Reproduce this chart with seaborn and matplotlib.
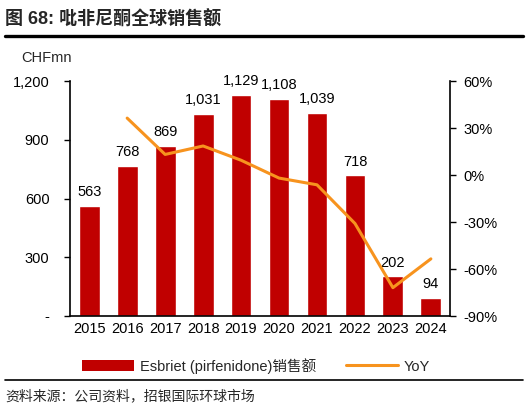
import matplotlib
matplotlib.use("Agg")
import matplotlib.pyplot as plt
from matplotlib.lines import Line2D
from matplotlib.patches import Patch
from matplotlib.ticker import FuncFormatter, MultipleLocator
import seaborn as sns
import pandas as pd

# data
years = ["2015", "2016", "2017", "2018", "2019", "2020", "2021", "2022", "2023", "2024"]
sales = [563, 768, 869, 1031, 1129, 1108, 1039, 718, 202, 94]
yoy_years = years[1:]
yoy = [36.4, 13.2, 18.6, 9.5, -1.9, -6.2, -30.9, -71.9, -53.5]

BAR_COLOR = "#C00000"
LINE_COLOR = "#F7931E"

sns.set_theme(style="white")
plt.rcParams["font.family"] = ["Liberation Sans", "Noto Sans CJK SC", "DejaVu Sans"]

fig = plt.figure(figsize=(5.28, 4.12), dpi=100)
ax = fig.add_axes([0.133, 0.233, 0.719, 0.570])

df = pd.DataFrame({"year": years, "sales": sales})
sns.barplot(data=df, x="year", y="sales", color=BAR_COLOR, width=0.55,
            saturation=1, ax=ax)
for i, v in enumerate(sales):
    ax.text(i, v + 35, f"{v:,}", ha="center", va="bottom", fontsize=10.5, color="black")

ax.set_ylim(0, 1200)
ax.yaxis.set_major_locator(MultipleLocator(300))
ax.yaxis.set_major_formatter(FuncFormatter(lambda v, p: "-" if v == 0 else f"{int(v):,}"))
ax.set_xlabel("")
ax.set_ylabel("")
ax.set_xlim(-0.5, len(years) - 0.5)
for s in ["top", "right"]:
    ax.spines[s].set_visible(False)
for s in ["left", "bottom"]:
    ax.spines[s].set_color("black")
    ax.spines[s].set_linewidth(1.2)
ax.tick_params(axis="y", direction="out", length=4, width=1, colors="black", labelsize=10.5, pad=11)
ax.tick_params(axis="x", direction="out", length=4, width=1, colors="black", labelsize=10.5, pad=4)
ax.set_xticks([i - 0.5 for i in range(len(years) + 1)], minor=True)
ax.tick_params(axis="x", which="major", length=0)
ax.tick_params(axis="x", which="minor", length=4, width=1, direction="out", color="black")

ax2 = ax.twinx()
dl = pd.DataFrame({"year": yoy_years, "yoy": yoy})
sns.lineplot(data=dl, x="year", y="yoy", color=LINE_COLOR, linewidth=2.2, ax=ax2, sort=False)
ax2.set_ylim(-90, 60)
ax2.yaxis.set_major_locator(MultipleLocator(30))
ax2.yaxis.set_major_formatter(FuncFormatter(lambda v, p: f"{int(v)}%"))
ax2.set_ylabel("")
ax2.set_xlabel("")
for s in ["top", "left", "bottom"]:
    ax2.spines[s].set_visible(False)
ax2.spines["right"].set_color("black")
ax2.spines["right"].set_linewidth(1.2)
ax2.tick_params(axis="y", direction="out", length=4, width=1, colors="black", labelsize=10.5, pad=6)
ax2.grid(False)
ax.grid(False)

fig.text(0.04, 0.86, "CHFmn", fontsize=10.5, ha="left", va="center")

# title
fig.text(0.01, 0.952, "图 68: 吡非尼酮全球销售额", fontsize=13, fontweight="bold",
         ha="left", va="center")
fig.add_artist(Line2D([0.01, 0.99], [0.912, 0.912], color="black", linewidth=2.4))

handles = [Patch(facecolor=BAR_COLOR, edgecolor="none"),
           Line2D([0], [0], color=LINE_COLOR, linewidth=2.2)]
fig.legend(handles, ["Esbriet (pirfenidone)销售额", "YoY"], loc="center",
           bbox_to_anchor=(0.485, 0.112), ncol=2, frameon=False, fontsize=10.5,
           handlelength=3.6, handleheight=0.8, columnspacing=2.0, handletextpad=0.4)

fig.add_artist(Line2D([0.01, 0.99], [0.077, 0.077], color="black", linewidth=1.2))
fig.text(0.01, 0.038, "资料来源：公司资料，招银国际环球市场", fontsize=10, ha="left", va="center")

fig.savefig("out.png", dpi=100)
